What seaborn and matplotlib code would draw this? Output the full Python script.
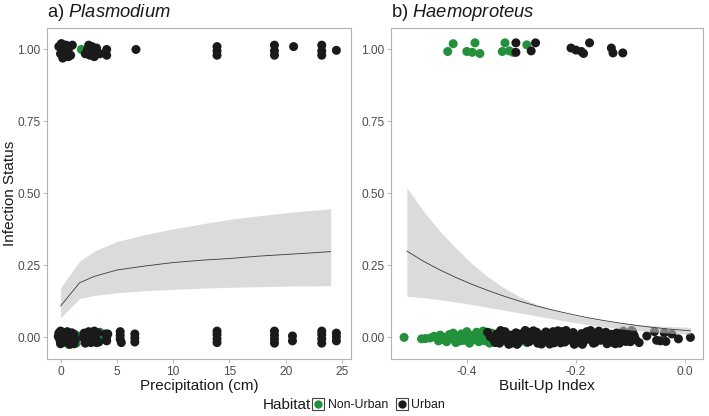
import numpy as np
import pandas as pd
import matplotlib
matplotlib.use("Agg")
import matplotlib.pyplot as plt
import seaborn as sns
from matplotlib.lines import Line2D
from matplotlib.legend_handler import HandlerTuple

# --- data ---
habitats = ["Non-Urban", "Urban"]
colors = {"Non-Urban": "#23903b", "Urban": "#1a1a1a"}

# a) Plasmodium: precipitation vs infection status (jittered points)
a_top_green_x = [0.05, 1.85]
a_top_green_y = [1.020, 1.000]
a_top_black_x = [-0.15, 0.0, 0.1, 0.25, 0.35, 0.5, 0.6, 0.75, 0.9, 1.05,
                 2.2, 2.4, 2.6, 2.8, 3.0, 3.2, 3.5, 4.1, 4.1, 6.7,
                 13.9, 13.9, 13.9, 19.0, 19.0, 19.0, 20.7, 23.2, 23.2, 23.2,
                 24.5, 0.2, 0.7, 2.5, 3.0]
a_top_black_y = [1.010, 0.985, 1.020, 0.995, 0.975, 1.015, 0.990, 1.005, 0.980, 1.015,
                 0.985, 1.000, 0.980, 1.010, 0.990, 1.005, 0.985, 1.000, 0.980, 1.000,
                 1.010, 0.995, 0.980, 1.015, 0.995, 0.980, 1.010, 1.015, 0.995, 0.980,
                 0.997, 0.970, 0.975, 1.015, 0.975]
a_bot_green_x = [0.5, 0.7, 1.4, 1.6, 3.7, 1.2, 3.5]
a_bot_green_y = [-0.018, -0.024, -0.020, 0.005, 0.000, 0.012, 0.018]
a_bot_black_x = [-0.15, -0.05, 0.0, 0.05, 0.1, 0.2, 0.3, 0.4, 0.5, 0.6,
                 0.7, 0.8, 0.9, 1.0, 1.1, 0.0, 0.3, 0.6, 1.0, 2.1,
                 2.3, 2.5, 2.7, 2.9, 3.1, 3.3, 2.2, 2.8, 3.2, 4.0,
                 4.1, 4.1, 5.3, 5.3, 5.3, 5.4, 6.6, 6.6, 6.6, 13.9,
                 13.9, 13.9, 13.9, 19.0, 19.0, 19.0, 19.0, 20.6, 20.6, 23.2,
                 23.2, 23.2, 23.2, 24.5, 24.5, 24.5, 0.15, 0.45, 0.75, 1.2,
                 1.3, 2.4, 2.6, 3.0, 3.4, 0.85, -0.2, 2.0, 4.2, 1.2]
a_bot_black_y = [0.015, -0.010, 0.022, -0.020, 0.005, 0.018, -0.015, 0.010, -0.005, 0.020,
                 -0.018, 0.012, -0.008, 0.016, -0.014, -0.022, 0.000, 0.004, -0.020, 0.015,
                 -0.012, 0.020, -0.018, 0.008, -0.004, 0.016, -0.020, -0.015, -0.018, 0.012,
                 -0.012, 0.000, 0.020, 0.007, -0.006, -0.018, 0.012, -0.002, -0.016, 0.022,
                 0.010, -0.005, -0.018, 0.022, 0.008, -0.006, -0.020, 0.005, -0.012, 0.022,
                 0.010, -0.005, -0.020, 0.015, 0.002, -0.012, -0.004, 0.002, 0.006, 0.010,
                 -0.008, 0.004, -0.005, 0.022, -0.016, -0.024, 0.003, 0.000, 0.012, -0.022]

# fitted probability and 95% band, panel a
a_fit_x = [0.0, 1.7, 3.0, 5.0, 7.5, 10.0, 12.5, 15.0, 17.5, 20.0, 22.5, 24.0]
a_fit_y = [0.109, 0.190, 0.212, 0.234, 0.248, 0.260, 0.268, 0.274, 0.282, 0.288, 0.294, 0.298]
a_fit_lo = [0.068, 0.135, 0.146, 0.155, 0.162, 0.167, 0.171, 0.174, 0.176, 0.178, 0.179, 0.180]
a_fit_hi = [0.172, 0.265, 0.300, 0.333, 0.357, 0.377, 0.394, 0.410, 0.422, 0.433, 0.442, 0.447]

# b) Haemoproteus: built-up index vs infection status
b_top_green_x = [-0.435, -0.425, -0.400, -0.390, -0.385, -0.376, -0.335, -0.330, -0.322, -0.315, -0.290]
b_top_green_y = [0.993, 1.020, 0.993, 0.990, 1.023, 0.986, 0.993, 1.023, 0.995, 0.990, 1.016]
b_top_black_x = [-0.310, -0.310, -0.282, -0.274, -0.209, -0.200, -0.190, -0.186, -0.175, -0.135,
                 -0.132, -0.114]
b_top_black_y = [1.023, 0.990, 0.995, 1.023, 1.005, 0.998, 0.993, 0.986, 1.023, 1.005,
                 0.988, 0.988]
b_bot_green_x = [-0.515, -0.483, -0.476, -0.467, -0.452, -0.449, -0.437, -0.432, -0.428, -0.425,
                 -0.420, -0.415, -0.410, -0.405, -0.400, -0.395, -0.392, -0.387, -0.382, -0.378,
                 -0.374, -0.370, -0.366, -0.362, -0.358, -0.355, -0.350, -0.345, -0.340, -0.335,
                 -0.330, -0.325, -0.320, -0.310, -0.300, -0.290, -0.280,
                 -0.460, -0.445, -0.440, -0.418, -0.412, -0.402, -0.397, -0.388, -0.380, -0.372,
                 -0.364, -0.352, -0.343, -0.338]
b_bot_green_y = [0.000, -0.005, -0.004, -0.002, -0.012, 0.008, -0.015, 0.010, -0.005, 0.015,
                 -0.018, 0.004, 0.012, -0.010, 0.020, -0.020, 0.006, -0.008, 0.018, -0.015,
                 0.002, 0.022, -0.012, 0.010, -0.020, 0.015, -0.005, 0.008, -0.018, 0.012,
                 -0.010, 0.005, -0.015, -0.012, 0.010, -0.018, -0.005,
                 0.004, 0.002, -0.010, 0.000, -0.012, -0.004, 0.010, 0.002, -0.004, -0.010,
                 0.004, 0.012, -0.006, 0.020]
b_bot_black_x = [-0.362, -0.350, -0.345, -0.340, -0.336, -0.330, -0.325, -0.320, -0.315, -0.310,
                 -0.305, -0.300, -0.296, -0.290, -0.285, -0.280, -0.275, -0.270, -0.265, -0.260,
                 -0.255, -0.250, -0.245, -0.240, -0.235, -0.230, -0.225, -0.220, -0.215, -0.210,
                 -0.205, -0.200, -0.195, -0.190, -0.185, -0.180, -0.175, -0.170, -0.165, -0.160,
                 -0.155, -0.150, -0.145, -0.140, -0.135, -0.130, -0.125, -0.120, -0.115, -0.110,
                 -0.105, -0.100, -0.095, -0.090,
                 -0.348, -0.333, -0.318, -0.302, -0.288, -0.272, -0.258, -0.242, -0.228, -0.212,
                 -0.198, -0.182, -0.168, -0.152, -0.138, -0.122, -0.108, -0.093,
                 -0.357, -0.341, -0.327, -0.312, -0.297, -0.282, -0.267, -0.252, -0.237, -0.222,
                 -0.207, -0.192, -0.177, -0.162, -0.147, -0.132, -0.117, -0.102,
                 -0.338, -0.308, -0.278, -0.248, -0.218, -0.188, -0.158, -0.128, -0.098,
                 -0.323, -0.293, -0.263, -0.233, -0.203, -0.173, -0.143, -0.113,
                 -0.096, -0.084, -0.070, -0.056, -0.052, -0.045, -0.038, -0.035, -0.024, -0.012,
                 0.010]
b_bot_black_y = [0.018, -0.010, 0.012, -0.020, 0.005, 0.020, -0.015, 0.008, -0.005, 0.016,
                 -0.018, 0.010, -0.008, 0.020, -0.014, 0.004, 0.015, -0.020, 0.009, -0.006,
                 0.019, -0.012, 0.006, -0.019, 0.014, -0.003, 0.020, -0.016, 0.010, -0.009,
                 0.017, -0.020, 0.003, 0.013, -0.013, 0.020, -0.006, 0.009, -0.018, 0.015,
                 -0.010, 0.004, 0.018, -0.017, 0.011, -0.004, 0.016, -0.020, 0.007, -0.012,
                 0.014, -0.015, 0.010, -0.008,
                 -0.018, 0.015, -0.020, 0.012, -0.016, 0.018, -0.012, 0.020, -0.019, 0.010,
                 -0.015, 0.016, -0.020, 0.012, -0.017, 0.008, -0.014, 0.006,
                 0.002, -0.004, 0.000, 0.004, -0.002, 0.000, 0.003, -0.003, 0.001, -0.001,
                 0.004, -0.004, 0.002, -0.002, 0.000, 0.003, -0.003, 0.001,
                 0.024, -0.024, 0.023, -0.023, 0.024, -0.024, 0.022, -0.022, 0.024,
                 -0.024, 0.024, -0.023, 0.023, -0.024, 0.024, -0.022, 0.022,
                 0.020, -0.018, 0.005, 0.020, -0.010, -0.012, 0.016, -0.014, 0.012, -0.005,
                 0.000]

b_fit_x = [-0.51, -0.48, -0.45, -0.42, -0.39, -0.36, -0.33, -0.30, -0.27,
           -0.24, -0.21, -0.18, -0.15, -0.12, -0.09, -0.06, -0.03, 0.01]
b_fit_y = [0.300, 0.265, 0.235, 0.208, 0.184, 0.162, 0.142, 0.124, 0.108,
           0.094, 0.081, 0.069, 0.059, 0.050, 0.042, 0.035, 0.029, 0.023]
b_fit_lo = [0.143, 0.138, 0.131, 0.123, 0.114, 0.104, 0.094, 0.084, 0.074,
            0.064, 0.054, 0.045, 0.037, 0.030, 0.024, 0.019, 0.015, 0.011]
b_fit_hi = [0.520, 0.440, 0.370, 0.310, 0.255, 0.208, 0.170, 0.138, 0.113,
            0.094, 0.079, 0.068, 0.058, 0.050, 0.045, 0.041, 0.038, 0.035]


def points_frame(gx, gy, bx, by):
    # Non-Urban first so Urban is drawn on top (same as the original)
    return pd.concat([
        pd.DataFrame({"x": gx, "y": gy, "Habitat": "Non-Urban"}),
        pd.DataFrame({"x": bx, "y": by, "Habitat": "Urban"}),
    ], ignore_index=True)


df_a = points_frame(a_top_green_x + a_bot_green_x, a_top_green_y + a_bot_green_y,
                    a_top_black_x + a_bot_black_x, a_top_black_y + a_bot_black_y)
df_b = points_frame(b_top_green_x + b_bot_green_x, b_top_green_y + b_bot_green_y,
                    b_top_black_x + b_bot_black_x, b_top_black_y + b_bot_black_y)
fit_a = pd.DataFrame({"x": a_fit_x, "y": a_fit_y, "lo": a_fit_lo, "hi": a_fit_hi})
fit_b = pd.DataFrame({"x": b_fit_x, "y": b_fit_y, "lo": b_fit_lo, "hi": b_fit_hi})

sns.set_theme(style="white")
plt.rcParams["font.family"] = ["Liberation Sans", "DejaVu Sans"]
plt.rcParams["mathtext.fontset"] = "custom"
plt.rcParams["mathtext.rm"] = "Liberation Sans"
plt.rcParams["mathtext.it"] = "Liberation Sans:italic"

fig = plt.figure(figsize=(7.09, 4.16), dpi=100)
ax1 = fig.add_axes([0.0663, 0.137, 0.4288, 0.796])
ax2 = fig.add_axes([0.5515, 0.137, 0.4400, 0.796])


def draw_panel(ax, pts, fit, title, xlabel):
    sns.scatterplot(data=pts, x="x", y="y", hue="Habitat", palette=colors,
                    hue_order=habitats, s=42, linewidth=0, alpha=1,
                    legend=False, ax=ax, zorder=2)
    ax.fill_between(fit["x"], fit["lo"], fit["hi"], color="#c4c4c4",
                    alpha=0.6, linewidth=0, zorder=3)
    sns.lineplot(data=fit, x="x", y="y", color="#3a3a3a", linewidth=0.6,
                 ax=ax, zorder=4)
    ax.set_ylim(-0.075, 1.075)
    ax.set_yticks([0, 0.25, 0.5, 0.75, 1.0])
    ax.set_yticklabels(["0.00", "0.25", "0.50", "0.75", "1.00"])
    ax.set_title(title, loc="left", fontsize=13.2, pad=8, color="#1a1a1a")
    ax.set_xlabel(xlabel, fontsize=11, color="#1a1a1a", labelpad=1)
    ax.set_ylabel("")
    for sp in ax.spines.values():
        sp.set_color("#b3b3b3")
        sp.set_linewidth(0.8)
    ax.tick_params(axis="both", direction="out", length=2.75, width=0.6,
                   color="#b3b3b3", labelsize=8.6, labelcolor="#4d4d4d", pad=2,
                   bottom=True, left=True)
    ax.grid(False)


draw_panel(ax1, df_a, fit_a, r"a) $\mathit{Plasmodium}$", "Precipitation (cm)")
ax1.set_xlim(-1.2, 25.8)
ax1.set_xticks([0, 5, 10, 15, 20, 25])
ax1.set_ylabel("Infection Status", fontsize=11, color="#1a1a1a")
ax1.yaxis.set_label_coords(-0.098, 0.5)

draw_panel(ax2, df_b, fit_b, r"b) $\mathit{Haemoproteus}$", "Built-Up Index")
ax2.set_xlim(-0.539, 0.033)
ax2.set_xticks([-0.4, -0.2, 0.0])
ax2.set_xticklabels(["-0.4", "-0.2", "0.0"])

# legend at the bottom, title on the left like ggplot
fig.text(263 / 709, 1 - 405 / 416, "Habitat", fontsize=11, va="center",
         ha="left", color="#1a1a1a")
handles = []
for h in habitats:
    box = Line2D([], [], marker="s", ms=8.5, mfc="white", mec="#444444",
                 mew=0.8, ls="")
    dot = Line2D([], [], marker="o", ms=5, color=colors[h], ls="")
    handles.append((box, dot))
fig.legend(handles, habitats, loc="center left",
           bbox_to_anchor=(312 / 709, 1 - 405 / 416), ncol=2, frameon=False,
           fontsize=8.8, handlelength=1.0, handletextpad=0.3,
           columnspacing=0.6, borderpad=0, borderaxespad=0,
           handler_map={tuple: HandlerTuple(ndivide=1)},
           labelcolor="#1a1a1a")

fig.savefig("out.png", dpi=100)
